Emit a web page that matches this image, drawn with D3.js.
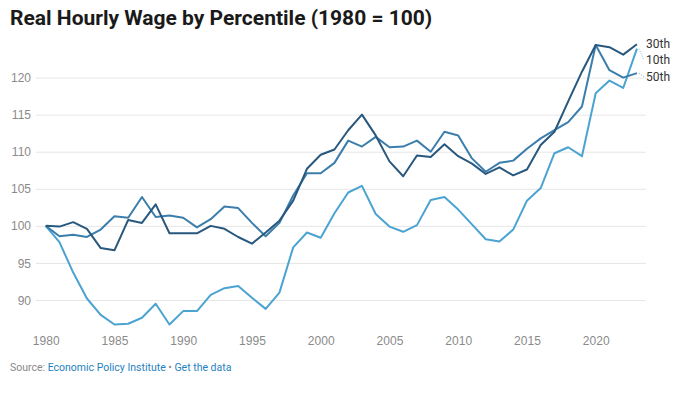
<!DOCTYPE html>
<html lang="en">
<head>
<meta charset="UTF-8">
<title>Real Hourly Wage by Percentile</title>
<style>
    body { margin: 0; background: #fff; font-family: Roboto, sans-serif; }
    svg { display: block; }
    .grid line { stroke: #e6e6e6; stroke-width: 1; }
    .tick text { fill: #8a8a8a; font-size: 12px; }
</style>
</head>
<body>
<svg width="680" height="397"></svg>
<script src="https://d3js.org/d3.v7.min.js"></script>
<script>
// values
const years = d3.range(1980, 2024);

const p10 = [100, 97.8, 93.7, 90.2, 88.0, 86.7, 86.8, 87.6, 89.5, 86.7,
             88.5, 88.5, 90.7, 91.6, 91.9, 90.3, 88.8, 91.0, 97.1, 99.1,
             98.4, 101.7, 104.5, 105.4, 101.6, 99.9, 99.2, 100.1, 103.5, 103.9,
             102.2, 100.2, 98.2, 97.9, 99.5, 103.4, 105.1, 109.8, 110.6, 109.4,
             117.9, 119.6, 118.6, 123.9];

const p30 = [100, 99.9, 100.5, 99.6, 97.0, 96.7, 100.8, 100.4, 102.9, 99.0,
             99.0, 99.0, 100.0, 99.6, 98.5, 97.6, 99.1, 100.7, 103.4, 107.7,
             109.6, 110.3, 112.9, 115.0, 112.2, 108.7, 106.7, 109.5, 109.3, 111.0,
             109.4, 108.4, 107.0, 107.9, 106.8, 107.6, 110.9, 112.7, 116.8, 120.8,
             124.4, 124.1, 123.1, 124.5];

const p50 = [100, 98.6, 98.8, 98.5, 99.5, 101.3, 101.1, 103.9, 101.2, 101.4,
             101.1, 99.8, 100.9, 102.6, 102.4, 100.4, 98.6, 100.4, 104.1, 107.1,
             107.1, 108.5, 111.5, 110.7, 112.0, 110.6, 110.7, 111.5, 110.0, 112.7,
             112.2, 109.1, 107.3, 108.5, 108.8, 110.4, 111.8, 112.9, 114.0, 116.1,
             124.4, 121.0, 120.0, 120.6];

const yTicks = [90, 95, 100, 105, 110, 115, 120];
const xTicks = [1980, 1985, 1990, 1995, 2000, 2005, 2010, 2015, 2020];

const series = [
    { name: "10th", values: p10, color: "#4ba3d2", labelY: 60 },
    { name: "50th", values: p50, color: "#3b7eab", labelY: 77 },
    { name: "30th", values: p30, color: "#28587e", labelY: 44 }
];

const svg = d3.select("svg");

const x = d3.scaleLinear().domain([1980, 2020]).range([45.7, 595.7]);
const y = d3.scaleLinear().domain([90, 120]).range([300, 77.6]);

const gridLeft = 36, gridRight = 646;

// title
svg.append("text")
    .attr("x", 10)
    .attr("y", 25)
    .attr("font-size", 21)
    .attr("font-weight", 700)
    .attr("fill", "#1a1a1a")
    .text("Real Hourly Wage by Percentile (1980 = 100)");

// y grid + labels
const yAxis = svg.append("g")
    .attr("class", "grid")
    .attr("transform", `translate(${gridLeft},0)`)
    .call(d3.axisLeft(y).tickValues(yTicks).tickSize(-(gridRight - gridLeft)).tickPadding(5));
yAxis.select(".domain").remove();
yAxis.selectAll(".tick text").attr("dy", "0.34em");

// x labels
const xAxis = svg.append("g")
    .attr("transform", "translate(0,332)")
    .call(d3.axisBottom(x).tickValues(xTicks).tickFormat(d3.format("d")).tickSize(0).tickPadding(4));
xAxis.select(".domain").remove();

// lines
const line = d3.line()
    .x((d, i) => x(years[i]))
    .y(d => y(d));

svg.append("g")
    .selectAll("path")
    .data(series)
    .join("path")
    .attr("fill", "none")
    .attr("stroke", d => d.color)
    .attr("stroke-width", 2)
    .attr("stroke-linejoin", "round")
    .attr("d", d => line(d.values));

// end labels with dotted leaders
const lastYear = years[years.length - 1];
series.forEach(s => {
    const ex = x(lastYear), ey = y(s.values[s.values.length - 1]);
    if (Math.abs(ey - s.labelY) > 3) {
        svg.append("line")
            .attr("x1", ex + 2).attr("y1", ey)
            .attr("x2", ex + 7).attr("y2", s.labelY)
            .attr("stroke", s.color)
            .attr("stroke-width", 1)
            .attr("stroke-dasharray", "1,1.5")
            .attr("opacity", 0.7);
    }
    svg.append("text")
        .attr("x", 646)
        .attr("y", s.labelY)
        .attr("dy", "0.35em")
        .attr("font-size", 12)
        .attr("fill", "#333")
        .text(s.name);
});

// source line
const src = svg.append("text")
    .attr("x", 10)
    .attr("y", 371)
    .attr("font-size", 10.5);
src.append("tspan").attr("fill", "#888").text("Source: ");
src.append("tspan").attr("fill", "#1f7fbf").text("Economic Policy Institute");
src.append("tspan").attr("fill", "#888").text(" • ");
src.append("tspan").attr("fill", "#1f7fbf").text("Get the data");
</script>
</body>
</html>
